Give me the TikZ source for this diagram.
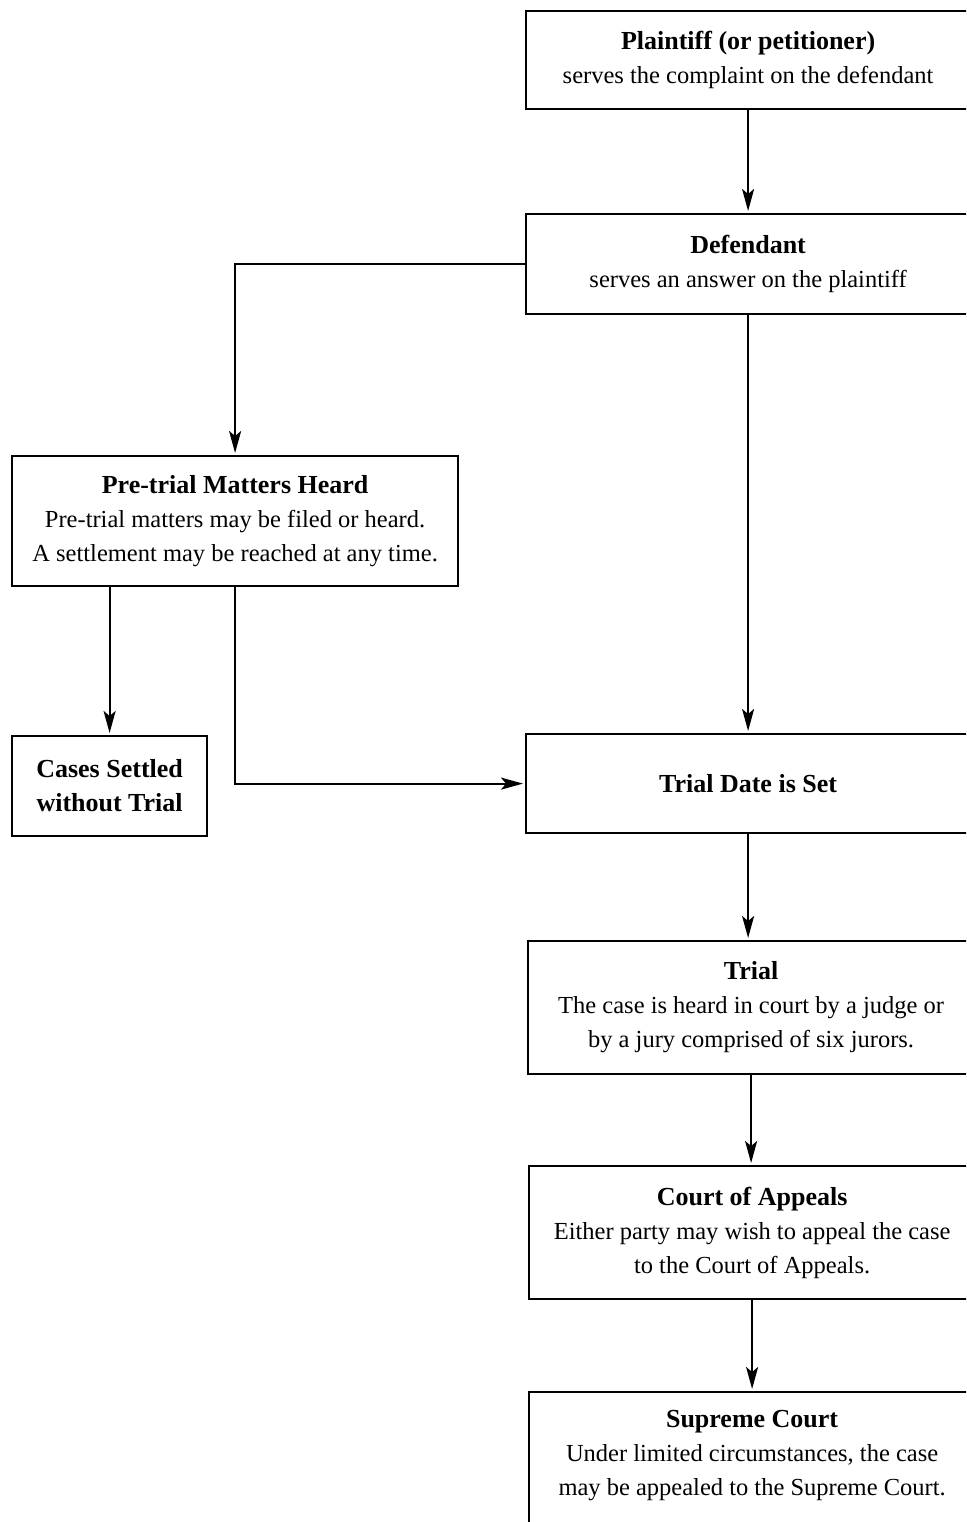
\documentclass[tikz,border=0pt]{standalone}
\usepackage{fontspec}
\setmainfont{Liberation Serif}
\usetikzlibrary{arrows.meta}
\tikzset{
  box/.style={draw, line width=2.2pt, rectangle, inner sep=0pt, anchor=north west, align=center,
    font=\fontsize{24.5}{34}\selectfont},
  arr/.style={line width=2.2pt, -{Stealth[length=22pt,width=12pt,inset=5pt]}, shorten >=2pt}
}
\newcommand{\ttlfont}{\fontsize{26}{34}\selectfont\bfseries}
\begin{document}
\begin{tikzpicture}[x=1pt,y=-1pt]
\useasboundingbox (0,0) rectangle (966,1522);
\clip (0,0) rectangle (966,1522);
\node[box, minimum width=444pt, minimum height=98pt] (P) at (525,10)
  {{\ttlfont Plaintiff (or petitioner)}\\serves the complaint on the defendant};
\node[box, minimum width=444pt, minimum height=100pt] (D) at (525,213)
  {{\ttlfont Defendant}\\serves an answer on the plaintiff};
\node[box, minimum width=446pt, minimum height=130pt] (PT) at (11,455)
  {{\ttlfont Pre-trial Matters Heard}\\Pre-trial matters may be filed or heard.\\A settlement may be reached at any time.};
\node[box, minimum width=195pt, minimum height=100pt] (CS) at (11,735)
  {{\ttlfont Cases Settled}\\{\ttlfont without Trial}};
\node[box, minimum width=444pt, minimum height=99pt] (TD) at (525,733)
  {{\ttlfont Trial Date is Set}};
\node[box, minimum width=446pt, minimum height=133pt] (T) at (527,940)
  {{\ttlfont Trial}\\The case is heard in court by a judge or\\by a jury comprised of six jurors.};
\node[box, minimum width=446pt, minimum height=133pt] (CA) at (528,1165)
  {{\ttlfont Court of Appeals}\\Either party may wish to appeal the case\\to the Court of Appeals.};
\node[box, minimum width=446pt, minimum height=136pt] (SC) at (528,1391)
  {{\ttlfont Supreme Court}\\Under limited circumstances, the case\\may be appealed to the Supreme Court.\\[-20pt]\mbox{}};
\draw[arr] (P.south) -- (P.south |- D.north);
\draw[arr] (D.west) -| (PT.north);
\draw[arr] (D.south) -- (D.south |- TD.north);
\draw[arr] (PT.south -| CS.north) -- (CS.north);
\draw[arr] (PT.south) |- (TD.west);
\draw[arr] (TD.south) -- (TD.south |- T.north);
\draw[arr] (T.south) -- (T.south |- CA.north);
\draw[arr] (CA.south) -- (CA.south |- SC.north);
\end{tikzpicture}
\end{document}
